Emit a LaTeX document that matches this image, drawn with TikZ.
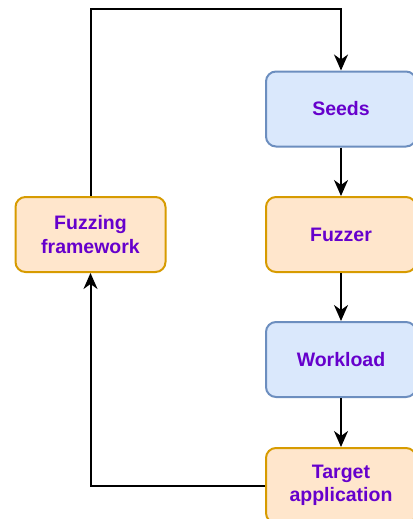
\documentclass[tikz,border=0pt]{standalone}
\usepackage{fontspec}
\setmainfont{Liberation Sans}
\usetikzlibrary{arrows.meta}
\definecolor{bfill}{HTML}{DAE8FC}
\definecolor{bdraw}{HTML}{6C8EBF}
\definecolor{ofill}{HTML}{FFE6CC}
\definecolor{odraw}{HTML}{D79B00}
\definecolor{txt}{HTML}{6600CC}
\tikzset{
  box/.style={rectangle, rounded corners=10pt, line width=2pt, minimum width=150pt, minimum height=75pt,
    align=center, text=txt, font=\fontsize{19.5}{23.4}\selectfont\bfseries, inner sep=0pt},
  bluebox/.style={box, fill=bfill, draw=bdraw},
  orangebox/.style={box, fill=ofill, draw=odraw},
  conn/.style={line width=2pt, -{Stealth[length=16pt,width=14pt,inset=5pt]}},
}
\begin{document}
\begin{tikzpicture}[x=1pt,y=-1pt]
\useasboundingbox (0,0) rectangle (412,519);
\node[bluebox] (seeds) at (341,109) {Seeds};
\node[orangebox] (fuzzer) at (341,234.5) {Fuzzer};
\node[bluebox] (work) at (341,359.5) {Workload};
\node[orangebox] (target) at (341,485.5) {Target\\application};
\node[orangebox] (frame) at (90.5,234.5) {Fuzzing\\framework};
\coordinate (tl) at (90.5,9);
\coordinate (tr) at (341,9);
\coordinate (bl) at (90.5,485.5);
\draw[conn] (frame.north) -- (tl) -- (tr) -- (seeds.north);
\draw[conn] (seeds) -- (fuzzer);
\draw[conn] (fuzzer) -- (work);
\draw[conn] (work) -- (target);
\draw[conn] (target.west) -- (bl) -- (frame.south);
\end{tikzpicture}
\end{document}
